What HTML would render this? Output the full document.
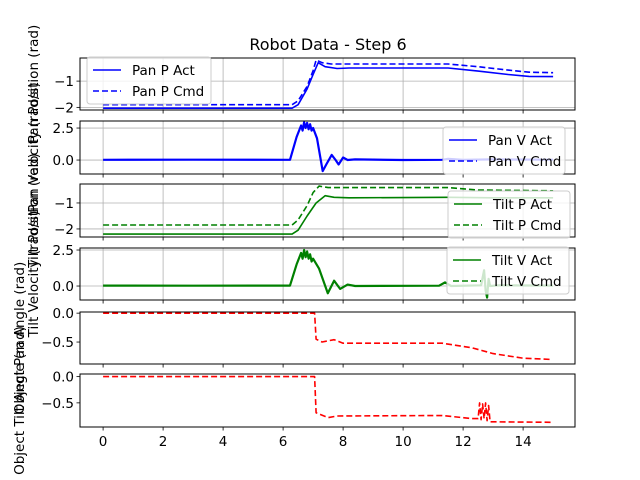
<!DOCTYPE html>
<html><head><meta charset="utf-8"><style>
body{margin:0;background:#fff;}
svg{display:block;font-family:"DejaVu Sans","Liberation Sans",sans-serif;}
</style></head><body>
<svg id="chart" width="640" height="480" viewBox="0 0 640 480">
<text x="328" y="50" text-anchor="middle" font-size="16">Robot Data - Step 6</text>
</svg>
<script>
// x tick labels
const xTicks = [0,2,4,6,8,10,12,14];
// Panel 1: Pan Position
const panPT = [0,6.3,6.5,6.8,7.0,7.17,7.4,7.8,8.2,11.5,12.5,13.5,14.2,15];
const panPAct = [-2.03,-2.03,-1.9,-1.3,-0.75,-0.3,-0.45,-0.52,-0.5,-0.5,-0.62,-0.75,-0.82,-0.83];
const panPCmdT = [0,6.3,6.5,6.8,7.0,7.1,7.3,7.6,11.5,12.5,13.5,14.2,15];
const panPCmd = [-1.9,-1.9,-1.75,-1.2,-0.6,-0.2,-0.3,-0.35,-0.35,-0.45,-0.58,-0.66,-0.68];
// Panel 2: Pan Velocity
const panVT = [0,3,6.23,6.45,6.6,6.65,6.7,6.75,6.8,6.85,6.9,6.95,7.0,7.13,7.32,7.45,7.62,7.75,7.85,8.0,8.15,8.4,10,11.3,11.5,12,13,15];
const panVAct = [0.02,0.03,0.02,1.8,2.7,2.3,2.95,2.5,2.9,2.4,2.8,2.3,2.5,1.7,-0.86,-0.3,0.4,0.0,-0.35,0.2,0.0,0.05,0.0,0.02,0.1,0.02,0.05,0.03];
// Panel 3: Tilt Position
const tiltPT = [0,6.3,6.5,6.8,7.1,7.4,7.7,8.2,11.5,13,15];
const tiltPAct = [-2.2,-2.2,-2.05,-1.5,-1.0,-0.72,-0.78,-0.8,-0.78,-0.8,-0.8];
const tiltPCmdT = [0,6.3,6.5,6.8,7.0,7.2,7.5,11.5,12.5,15];
const tiltPCmd = [-1.85,-1.85,-1.65,-1.1,-0.6,-0.35,-0.41,-0.41,-0.5,-0.53];
// Panel 4: Tilt Velocity
const tiltVT = [0,3,6.23,6.45,6.6,6.65,6.7,6.75,6.8,6.85,6.9,6.95,7.0,7.2,7.49,7.7,7.9,8.15,8.4,11.2,11.4,11.6,12.6,12.7,12.75,12.8,12.85,12.9,13.2,15];
const tiltVAct = [0.03,0.02,0.03,1.5,2.3,1.9,2.5,2.0,2.4,1.9,2.2,1.7,1.9,1.2,-0.5,0.37,-0.2,0.1,0.0,0.02,0.25,0.0,0.05,1.1,-0.3,-0.8,0.5,0.0,0.05,0.03];
// Panel 5: Object Pan Angle
const objPanT = [0,7.05,7.1,7.3,7.7,8.0,11.3,12.3,13.0,14.0,14.9];
const objPan = [0,0,-0.45,-0.5,-0.46,-0.52,-0.52,-0.6,-0.7,-0.78,-0.8];
// Panel 6: Object Tilt Angle
const objTiltT = [0,7.05,7.1,7.5,7.8,11.3,12.3,12.5,12.55,12.6,12.65,12.7,12.75,12.8,12.85,12.9,15];
const objTilt = [0,0,-0.69,-0.78,-0.75,-0.74,-0.8,-0.8,-0.5,-0.82,-0.52,-0.8,-0.5,-0.84,-0.55,-0.86,-0.87];

const NS="http://www.w3.org/2000/svg";
const svg=document.getElementById('chart');
const X0=80,X1=575,XMIN=-0.77,XMAX=15.73;
function xs(t){return X0+(t-XMIN)/(XMAX-XMIN)*(X1-X0);}
function mk(tag,attrs,parent){const e=document.createElementNS(NS,tag);for(const k in attrs)e.setAttribute(k,attrs[k]);(parent||svg).appendChild(e);return e;}

const panels=[
 {name:'pan-position',top:58,bot:110,ymin:-2.1,ymax:-0.12,yt:[-2,-1],ytl:['\u22122','\u22121'],grid:true,label:'Pan Position (rad)',lx:38,
  series:[{t:panPT,v:panPAct,c:'#0000ff',d:'',n:'Pan P Act'},{t:panPCmdT,v:panPCmd,c:'#0000ff',d:'6,3',n:'Pan P Cmd'}],legend:{x:87,y:57}},
 {name:'pan-velocity',top:121,bot:174,ymin:-1.09,ymax:3.05,yt:[0,2.5],ytl:['0.0','2.5'],grid:true,label:'Pan Velocity (rad/s)',lx:38,
  series:[{t:panVT,v:panVAct,c:'#0000ff',d:'',n:'Pan V Act',w:2.2}],legendItems:[{c:'#0000ff',d:'',n:'Pan V Act'},{c:'#0000ff',d:'6,3',n:'Pan V Cmd'}],legend:{x:443,y:127}},
 {name:'tilt-position',top:184,bot:237,ymin:-2.31,ymax:-0.27,yt:[-2,-1],ytl:['\u22122','\u22121'],grid:true,label:'Tilt Position (rad)',lx:38,
  series:[{t:tiltPT,v:tiltPAct,c:'#008000',d:'',n:'Tilt P Act'},{t:tiltPCmdT,v:tiltPCmd,c:'#008000',d:'6,3',n:'Tilt P Cmd'}],legend:{x:448,y:191}},
 {name:'tilt-velocity',top:248,bot:300,ymin:-0.97,ymax:2.64,yt:[0,2.5],ytl:['0.0','2.5'],grid:true,label:'Tilt Velocity (rad/s)',lx:38,
  series:[{t:tiltVT,v:tiltVAct,c:'#008000',d:'',n:'Tilt V Act',w:2.2}],legendItems:[{c:'#008000',d:'',n:'Tilt V Act'},{c:'#008000',d:'6,3',n:'Tilt V Cmd'}],legend:{x:447,y:247}},
 {name:'object-pan-angle',top:312,bot:364,ymin:-0.88,ymax:0.02,yt:[-0.5,0],ytl:['\u22120.5','0.0'],grid:false,label:'Object Pan Angle (rad)',lx:24,
  series:[{t:objPanT,v:objPan,c:'#ff0000',d:'6,3'}]},
 {name:'object-tilt-angle',top:374,bot:427,ymin:-0.96,ymax:0.05,yt:[-0.5,0],ytl:['\u22120.5','0.0'],grid:false,label:'Object Tilt Angle (rad)',lx:24,
  series:[{t:objTiltT,v:objTilt,c:'#ff0000',d:'6,3'}]}
];

panels.forEach((p,pi)=>{
 const g=mk('g',{});
 
 
 const ys=v=>p.bot-(v-p.ymin)/(p.ymax-p.ymin)*(p.bot-p.top);
 if(p.grid){
  xTicks.forEach(t=>{const l=mk('line',{x1:xs(t),x2:xs(t),y1:p.top,y2:p.bot,stroke:'#b0b0b0','stroke-width':0.8},g);
   });
  p.yt.forEach(v=>{const l=mk('line',{x1:X0,x2:X1,y1:ys(v),y2:ys(v),stroke:'#b0b0b0','stroke-width':0.8},g);
   });
 }
 const cp=mk('clipPath',{id:'cp'+pi},g);mk('rect',{x:X0,y:p.top,width:X1-X0,height:p.bot-p.top},cp);
 p.series.forEach(s=>{
  const pts=s.t.map((t,i)=>xs(t).toFixed(1)+','+ys(s.v[i]).toFixed(1)).join(' ');
  const pl=mk('polyline',{points:pts,fill:'none',stroke:s.c,'stroke-width':s.w||1.6,'stroke-dasharray':s.d||'none','clip-path':'url(#cp'+pi+')','stroke-linejoin':'round'},g);
  
  
 });
 const fr=mk('rect',{x:X0,y:p.top,width:X1-X0,height:p.bot-p.top,fill:'none',stroke:'#000','stroke-width':1},g);
 
 xTicks.forEach(t=>{mk('line',{x1:xs(t),x2:xs(t),y1:p.bot,y2:p.bot+3.5,stroke:'#000','stroke-width':0.8},g);});
 p.yt.forEach((v,i)=>{
  mk('line',{x1:X0-3.5,x2:X0,y1:ys(v),y2:ys(v),stroke:'#000','stroke-width':0.8},g);
  const tx=mk('text',{x:X0-6,y:ys(v)+5,'text-anchor':'end','font-size':13.5},g);tx.textContent=p.ytl[i];
  
 });
 const cy=(p.top+p.bot)/2;
 const yl=mk('text',{x:p.lx,y:cy,'text-anchor':'middle','font-size':13.5,transform:'rotate(-90 '+p.lx+' '+cy+')'},g);
 yl.textContent=p.label;
 const items=p.legendItems||(p.legend?p.series:null);
 if(items){
  const lg=mk('g',{},g);
  const w=p.legend.x<200?124:122;
  mk('rect',{x:p.legend.x,y:p.legend.y,width:w,height:47,rx:3,fill:'#fff','fill-opacity':0.8,stroke:'#ccc','stroke-width':1},lg);
  items.forEach((s,i)=>{
   const yy=p.legend.y+13+i*21;
   mk('line',{x1:p.legend.x+6,x2:p.legend.x+34,y1:yy,y2:yy,stroke:s.c,'stroke-width':1.6,'stroke-dasharray':s.d||'none'},lg);
   const lt=mk('text',{x:p.legend.x+45,y:yy+5,'font-size':13.5},lg);lt.textContent=s.n;
   
  });
 }
 if(pi===panels.length-1){
  xTicks.forEach(t=>{const tx=mk('text',{x:xs(t),y:p.bot+19,'text-anchor':'middle','font-size':13.5},g);tx.textContent=t;
   });
 }
});
</script>
</body></html>
